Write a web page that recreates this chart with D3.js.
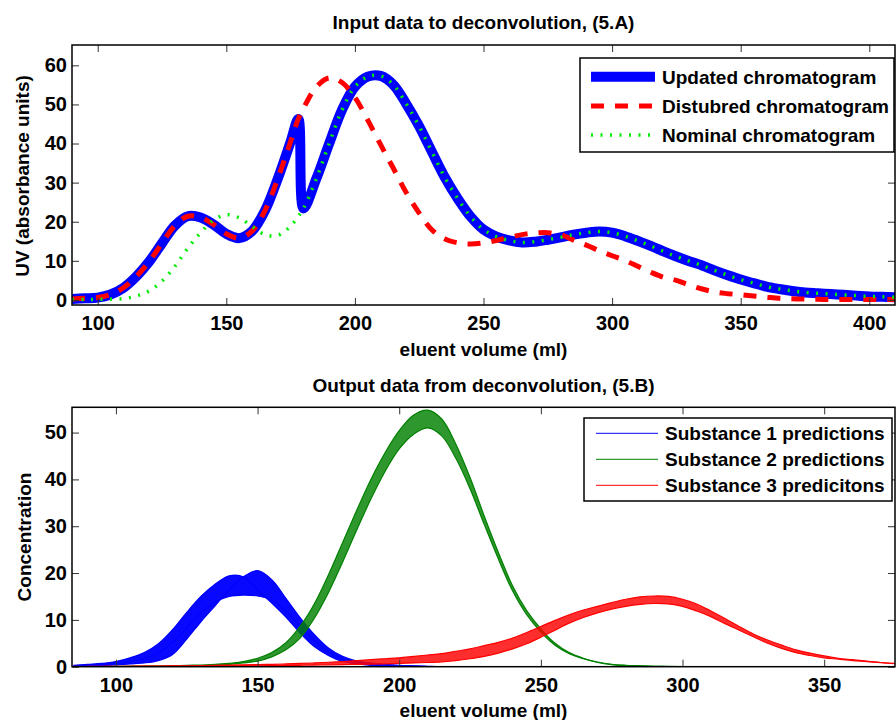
<!DOCTYPE html>
<html><head><meta charset="utf-8">
<script src="https://cdn.jsdelivr.net/npm/d3@7"></script>
<style>
body{margin:0;background:#fff;}
svg{display:block;font-family:"Liberation Sans",Arial,Helvetica,sans-serif;font-weight:bold;}
</style></head><body>
<svg id="fig" width="896" height="720"></svg>
<script>
// ---------- Panel A: input chromatograms (UV vs eluent volume) ----------
const volumeA = [90,95,100,105,110,115,120,125,130,135,140,145,150,155,160,165,170,175,178,
  180,185,190,195,200,205,210,215,220,225,230,235,240,245,250,255,260,265,270,275,280,285,290,
  295,300,305,310,315,320,325,330,335,340,345,350,355,360,365,370,375,380,385,390,395,400,405,410];
const updatedUV = [0.25,0.4,0.6,1.4,3.1,6,9.8,14.5,19,21.4,21.1,19.3,16.9,15.8,17.6,22.8,31,40.5,46.3,
  23.4,31,40,48.6,54.5,57.1,57.3,55,50.1,44.4,37.8,31.3,25.9,21.3,18,16.2,15.2,14.7,14.9,15.4,16,16.7,17.2,
  17.5,17.2,16.3,15.1,13.8,12.4,11.1,9.9,8.8,7.5,6.3,5.2,4.3,3.4,2.8,2.3,1.9,1.7,1.5,1.3,1.1,0.9,0.8,0.7];
const disturbedUV = [0.25,0.4,0.6,1.4,3.1,6,9.8,14.5,19,21.4,21.1,19.3,16.9,15.8,17.6,22.8,31,40.5,46.3,
  49,54.5,56.8,55.6,51.8,46,39.7,33.6,27.4,22.2,17.9,15.6,14.6,14.3,14.6,15.2,16,16.7,17.1,17.2,16.7,15.3,14,
  12.6,11.3,10.1,8.6,7.1,5.8,5,3.8,2.8,2,1.6,1.3,1,0.7,0.4,0.3,0.2,0.15,0.1,0.1,0.1,0.1,0.1,0.1];
const nominalUV = [0.1,0.1,0.15,0.2,0.35,1.0,2.3,4.8,8.6,13.2,17.2,20.4,21.8,21.0,18.8,16.7,16.5,18.9,21.4,
  23.4,31,40,48.6,54.5,57.1,57.3,55,50.1,44.4,37.8,31.3,25.9,21.3,18,16.2,15.2,14.7,14.9,15.4,16,16.7,17.2,
  17.5,17.2,16.3,15.1,13.8,12.4,11.1,9.9,8.8,7.5,6.3,5.2,4.3,3.4,2.8,2.3,1.9,1.7,1.5,1.3,1.1,0.9,0.8,0.7];
const ticksAx = [100,150,200,250,300,350,400];
const ticksAy = [0,10,20,30,40,50,60];
const legendA = ["Updated chromatogram","Distubred chromatogram","Nominal chromatogram"];

// ---------- Panel B: deconvolved concentration predictions ----------
const volumeB = [85,90,95,100,105,110,115,120,125,130,135,140,145,150,155,160,165,170,175,180,
  185,190,195,200,205,210,215,220,225,230,235,240,245,250,255,260,265,270,275,280,
  285,290,295,300,305,310,315,320,325,330,335,340,345,350,355,360,365,370,375];
// substance 1: earliest, lowest and latest prediction runs
const sub1Early = [0.3,0.5,0.7,1.1,1.9,3.0,4.9,7.9,11.6,15,17.6,19.4,19.2,16.4,13.6,10.6,7.2,4.3,2.4,1.1,
  0.6,0.3,0.2,0.1,0.05,0.02,0.02,0.02,0.02,0.02,0.02,0.02,0.02,0.02,0.02,0.02,0.02,0.02,0.02,0.02,
  0.02,0.02,0.02,0.02,0.02,0.02,0.02,0.02,0.02,0.02,0.02,0.02,0.02,0.02,0.02,0.02,0.02,0.02,0.02];
const sub1Low = [0.2,0.3,0.45,0.7,1.1,1.8,3.0,5.2,8.3,11.5,13.8,15,15.3,15.1,14.2,11.9,8.7,5.6,3.3,1.7,
  0.9,0.5,0.3,0.15,0.1,0.02,0.02,0.02,0.02,0.02,0.02,0.02,0.02,0.02,0.02,0.02,0.02,0.02,0.02,0.02,
  0.02,0.02,0.02,0.02,0.02,0.02,0.02,0.02,0.02,0.02,0.02,0.02,0.02,0.02,0.02,0.02,0.02,0.02,0.02];
const sub1Late = [0.1,0.15,0.25,0.4,0.6,0.8,1.3,2.6,5.9,9.6,13,16.5,19.2,20.5,18.6,14.6,10.5,6.9,4,2.2,
  1.2,0.8,0.5,0.3,0.2,0.1,0.02,0.02,0.02,0.02,0.02,0.02,0.02,0.02,0.02,0.02,0.02,0.02,0.02,0.02,
  0.02,0.02,0.02,0.02,0.02,0.02,0.02,0.02,0.02,0.02,0.02,0.02,0.02,0.02,0.02,0.02,0.02,0.02,0.02];
// substance 2: highest and lowest prediction runs
const sub2High = [0,0,0,0.05,0.1,0.1,0.15,0.2,0.3,0.35,0.5,0.7,1.1,1.8,3.0,5.1,8.6,13.4,19.6,26.5,
  33.4,40,45.7,50.4,53.7,54.8,52.9,47.5,40.4,32.2,24.4,17.3,12,8.1,5,3,1.8,1.0,0.5,0.3,
  0.2,0.1,0.05,0.02,0.02,0.02,0.02,0.02,0.02,0.02,0.02,0.02,0.02,0.02,0.02,0.02,0.02,0.02,0.02];
const sub2Low = [0,0,0,0.03,0.05,0.07,0.1,0.15,0.2,0.25,0.3,0.5,0.8,1.2,2.1,3.6,6.1,10.3,15.8,22.3,
  29.2,35.8,41.7,46.5,49.6,51,49.3,44.5,38,30.4,23,16.2,11.1,7.4,4.6,2.8,1.7,0.9,0.45,0.25,
  0.15,0.08,0.04,0.02,0.02,0.02,0.02,0.02,0.02,0.02,0.02,0.02,0.02,0.02,0.02,0.02,0.02,0.02,0.02];
// substance 3: highest and lowest prediction runs
const sub3High = [0.05,0.05,0.1,0.1,0.1,0.15,0.15,0.2,0.2,0.25,0.3,0.35,0.4,0.45,0.5,0.6,0.7,0.8,0.95,1.1,
  1.3,1.5,1.7,1.9,2.2,2.5,2.8,3.3,3.8,4.5,5.2,6.1,7.3,8.6,9.9,11.1,12.1,12.9,13.7,14.4,
  14.9,15.1,15,14.4,13.4,11.9,10.3,8.6,7,5.7,4.6,3.6,2.9,2.3,1.8,1.5,1.2,0.9,0.7];
const sub3Low = [0.02,0.02,0.03,0.04,0.05,0.06,0.07,0.08,0.1,0.11,0.13,0.15,0.17,0.2,0.23,0.26,0.3,0.35,0.4,0.45,
  0.5,0.55,0.62,0.7,0.8,0.9,1.05,1.3,1.7,2.2,2.9,3.8,4.9,6.3,7.8,9.3,10.5,11.5,12.3,12.9,
  13.3,13.5,13.4,12.9,11.9,10.7,9.2,7.8,6.4,5,3.9,3.0,2.4,1.9,1.6,1.3,1.1,0.85,0.65];
const ticksBx = [100,150,200,250,300,350];
const ticksBy = [0,10,20,30,40,50];
const legendB = ["Substance 1 predictions","Substance 2 predictions","Substance 3 predicitons"];

const svg = d3.select("#fig");
const smooth = d3.curveCatmullRom.alpha(0.5);

// Builds a boxed MATLAB-style axes with inward ticks on all four sides.
function makeAxes(cfg) {
  const x = d3.scaleLinear().domain(cfg.xDomain).range([cfg.left, cfg.right]);
  const y = d3.scaleLinear().domain(cfg.yDomain).range([cfg.bottom, cfg.top]);
  const g = svg.append("g");
  g.append("clipPath").attr("id", cfg.id + "-clip")
    .append("rect").attr("x", cfg.left).attr("y", cfg.top)
    .attr("width", cfg.right - cfg.left).attr("height", cfg.bottom - cfg.top);
  const plot = g.append("g").attr("clip-path", `url(#${cfg.id}-clip)`);

  const tick = 7;
  const ax = g.append("g").attr("class", "axes").style("color", "#000");
  ax.append("g").attr("transform", `translate(0,${cfg.bottom})`)
    .call(d3.axisBottom(x).tickValues(cfg.xTicks).tickSizeInner(-tick).tickSizeOuter(0).tickPadding(11));
  ax.append("g").attr("transform", `translate(0,${cfg.top})`)
    .call(d3.axisTop(x).tickValues(cfg.xTicks).tickSizeInner(-tick).tickSizeOuter(0).tickFormat(""));
  ax.append("g").attr("transform", `translate(${cfg.left},0)`)
    .call(d3.axisLeft(y).tickValues(cfg.yTicks).tickSizeInner(-tick).tickSizeOuter(0).tickPadding(5));
  ax.append("g").attr("transform", `translate(${cfg.right},0)`)
    .call(d3.axisRight(y).tickValues(cfg.yTicks).tickSizeInner(-tick).tickSizeOuter(0).tickFormat(""));
  ax.selectAll(".domain").remove();
  ax.selectAll(".tick line").attr("stroke", "#333").attr("stroke-width", 1);
  ax.selectAll(".tick text").style("font-size", "20px").style("font-weight", "bold")
    .style("font-family", "'Liberation Sans',Arial,sans-serif").attr("fill", "#000");

  g.append("rect").attr("x", cfg.left).attr("y", cfg.top)
    .attr("width", cfg.right - cfg.left).attr("height", cfg.bottom - cfg.top)
    .attr("fill", "none").attr("stroke", "#000").attr("stroke-width", 1.5);

  g.append("text").attr("x", (cfg.left + cfg.right) / 2).attr("y", cfg.titleY)
    .attr("text-anchor", "middle").style("font-size", "19px").text(cfg.title);
  g.append("text").attr("x", (cfg.left + cfg.right) / 2).attr("y", cfg.xLabelY)
    .attr("text-anchor", "middle").style("font-size", "19px").text(cfg.xLabel);
  g.append("text").attr("transform", `translate(${cfg.yLabelX},${cfg.yLabelY}) rotate(-90)`)
    .attr("text-anchor", "middle").style("font-size", "19px").text(cfg.yLabel);
  return { x, y, g, plot };
}

// ---------- Panel A ----------
const A = makeAxes({
  id: "pa", left: 72, right: 895, top: 45, bottom: 305,
  xDomain: [90, 410], yDomain: [-1.3, 65.2], xTicks: ticksAx, yTicks: ticksAy,
  title: "Input data to deconvolution, (5.A)", titleY: 29,
  xLabel: "eluent volume (ml)", xLabelY: 356,
  yLabel: "UV (absorbance units)", yLabelX: 29, yLabelY: 176
});
const lineA = d3.line().x((d, i) => A.x(volumeA[i])).y(d => A.y(d)).curve(smooth);
const seriesA = [
  { values: updatedUV, color: "#0000ff", width: 10, dash: null },
  { values: disturbedUV, color: "#ff0000", width: 5, dash: "13,11" },
  { values: nominalUV, color: "#00ee00", width: 3.5, dash: "2,7.5" }
];
seriesA.forEach(s => {
  A.plot.append("path").attr("d", lineA(s.values)).attr("fill", "none")
    .attr("stroke", s.color).attr("stroke-width", s.width)
    .attr("stroke-linejoin", "round")
    .attr("stroke-dasharray", s.dash);
});
// legend A
{
  const lg = svg.append("g");
  lg.append("rect").attr("x", 580).attr("y", 58).attr("width", 314).attr("height", 94)
    .attr("fill", "#fff").attr("stroke", "#000").attr("stroke-width", 1.5);
  const rows = [76.7, 106, 135];
  seriesA.forEach((s, i) => {
    lg.append("line").attr("x1", 591).attr("x2", 655).attr("y1", rows[i]).attr("y2", rows[i])
      .attr("stroke", s.color).attr("stroke-width", s.width).attr("stroke-dasharray", s.dash);
    lg.append("text").attr("x", 662).attr("y", rows[i] + 7).style("font-size", "19px").text(legendA[i]);
  });
}

// ---------- Panel B ----------
const B = makeAxes({
  id: "pb", left: 72, right: 895, top: 407.3, bottom: 666.7,
  xDomain: [84.5, 375], yDomain: [0, 55.4], xTicks: ticksBx, yTicks: ticksBy,
  title: "Output data from deconvolution, (5.B)", titleY: 392,
  xLabel: "eluent volume (ml)", xLabelY: 717,
  yLabel: "Concentration", yLabelX: 31, yLabelY: 537
});
const lineB = d3.line().x((d, i) => B.x(volumeB[i])).y(d => B.y(d)).curve(smooth);
const families = [
  { runs: [sub1Early, sub1Low, sub1Late], color: "#0000ff" },
  { runs: [sub2High, sub2Low], color: "#008000" },
  { runs: [sub3High, sub3Low], color: "#ff0000" }
];
families.forEach(f => {
  // shade the spread between every pair of prediction runs
  for (let a = 0; a < f.runs.length; a++) {
    for (let b = a + 1; b < f.runs.length; b++) {
      const ra = f.runs[a], rb = f.runs[b];
      const band = d3.area().x((d, i) => B.x(volumeB[i]))
        .y0((d, i) => B.y(rb[i])).y1((d, i) => B.y(ra[i])).curve(smooth);
      B.plot.append("path").attr("d", band(ra)).attr("fill", f.color).attr("fill-opacity", 0.82);
    }
  }
  f.runs.forEach(r => {
    B.plot.append("path").attr("d", lineB(r)).attr("fill", "none")
      .attr("stroke", f.color).attr("stroke-width", 1.2);
  });
});
// legend B
{
  const lg = svg.append("g");
  lg.append("rect").attr("x", 584).attr("y", 418).attr("width", 308).attr("height", 83)
    .attr("fill", "#fff").attr("stroke", "#000").attr("stroke-width", 1.5);
  const rows = [433.3, 459.3, 485.3];
  families.forEach((f, i) => {
    lg.append("line").attr("x1", 596).attr("x2", 658).attr("y1", rows[i]).attr("y2", rows[i])
      .attr("stroke", f.color).attr("stroke-width", 1);
    lg.append("text").attr("x", 665).attr("y", rows[i] + 7).style("font-size", "19px").text(legendB[i]);
  });
}
</script>
</body></html>
